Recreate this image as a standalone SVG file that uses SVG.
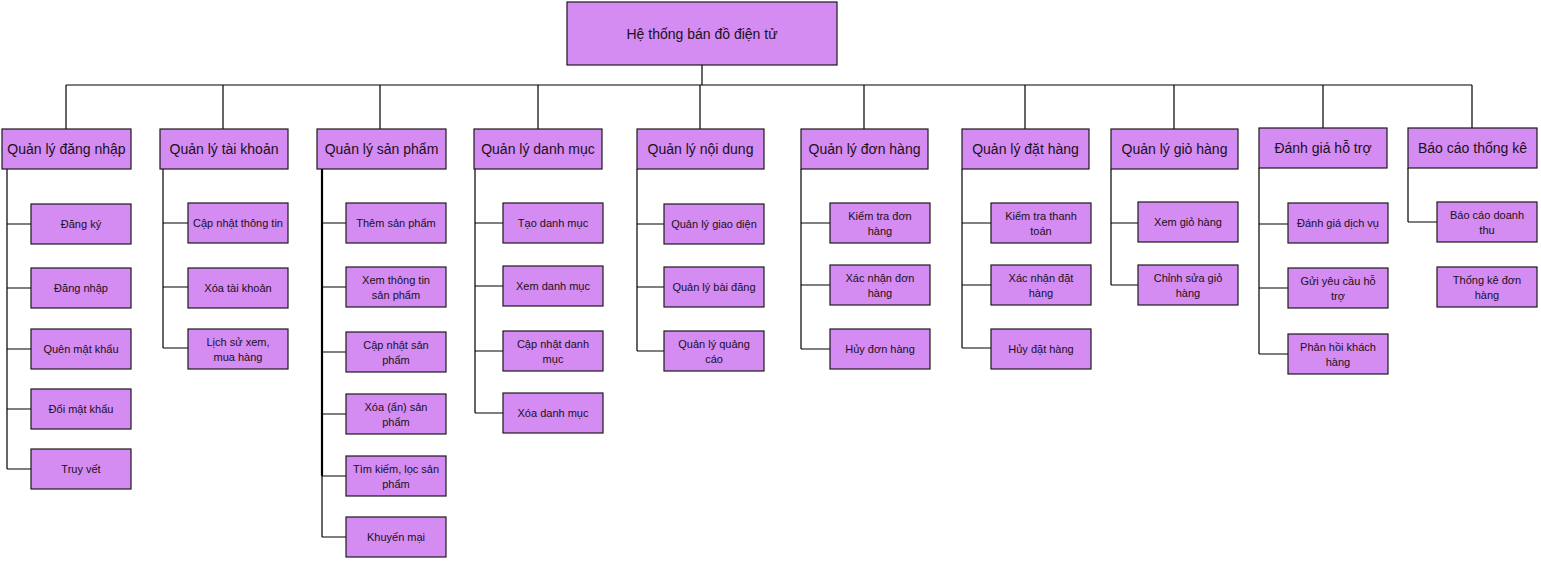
<svg xmlns="http://www.w3.org/2000/svg" width="1541" height="561" viewBox="0 0 1541 561">
<style>
rect{fill:#D48BF2;stroke:#1a1a1a;stroke-width:1.2}
text{font-family:"Liberation Sans",Arial,sans-serif;fill:#1a1020;text-anchor:middle;dominant-baseline:central}
.r{font-size:14px}
.h{font-size:14px}
.c{font-size:11px}
.ln{stroke:#000;stroke-width:1.2;fill:none}
</style>
<rect x="0" y="0" width="1541" height="561" style="fill:#fff;stroke:none"/>
<g id="connectors">
<path class="ln" d="M702 65V85M66 85H1472M66 85V129M223 85V129M380 85V129M538 85V129M700 85V129M864 85V129M1025 85V129M1174 85V129M1323 85V128M1472 85V128"/>
<path class="ln" d="M7 169V469M7 224H31M7 288H31M7 349H31M7 409H31M7 469H31"/>
<path class="ln" d="M163 169V348M163 223H188M163 287H188M163 348H188"/>
<path class="ln" d="M322 169V476" style="stroke-width:2.2"/>
<path class="ln" d="M322 476V537M322 223H346M322 287H346M322 352H346M322 414H346M322 476H346M322 537H346"/>
<path class="ln" d="M475 169V413M475 223H503M475 286H503M475 351H503M475 413H503"/>
<path class="ln" d="M637 169V351M637 224H664M637 287H664M637 351H664"/>
<path class="ln" d="M801 169V349M801 223H830M801 285H830M801 349H830"/>
<path class="ln" d="M962 169V348M962 223H991M962 285H991M962 348H991"/>
<path class="ln" d="M1111 169V285M1111 223H1138M1111 285H1138"/>
<path class="ln" d="M1259 168V354M1259 224H1288M1259 288H1288M1259 354H1288"/>
<path class="ln" d="M1408 168V222M1408 222H1437"/>
</g>
<g id="root"><rect x="567" y="2" width="270" height="63"/><text class="r" x="702" y="34">Hệ thống bán đồ điện tử</text></g>

<g id="n1"><rect x="2" y="129" width="129" height="40"/><text class="h" x="66.5" y="149">Quản lý đăng nhập</text></g>
<g id="n1a"><rect x="31" y="204" width="100" height="40"/><text class="c" x="81" y="224">Đăng ký</text></g>
<g id="n1b"><rect x="31" y="268" width="100" height="40"/><text class="c" x="81" y="288">Đăng nhập</text></g>
<g id="n1c"><rect x="31" y="329" width="100" height="40"/><text class="c" x="81" y="349">Quên mật khẩu</text></g>
<g id="n1d"><rect x="31" y="389" width="100" height="40"/><text class="c" x="81" y="409">Đổi mật khẩu</text></g>
<g id="n1e"><rect x="31" y="449" width="100" height="40"/><text class="c" x="81" y="469">Truy vết</text></g>

<g id="n2"><rect x="160" y="129" width="128" height="40"/><text class="h" x="224" y="149">Quản lý tài khoản</text></g>
<g id="n2a"><rect x="188" y="203" width="100" height="40"/><text class="c" x="238" y="223">Cập nhật thông tin</text></g>
<g id="n2b"><rect x="188" y="268" width="100" height="40"/><text class="c" x="238" y="288">Xóa tài khoản</text></g>
<g id="n2c"><rect x="188" y="329" width="100" height="40"/><text class="c" x="238" y="341.5">Lịch sử xem,</text><text class="c" x="238" y="356.5">mua hàng</text></g>

<g id="n3"><rect x="317" y="129" width="129" height="40"/><text class="h" x="381.5" y="149">Quản lý sản phẩm</text></g>
<g id="n3a"><rect x="346" y="203" width="100" height="40"/><text class="c" x="396" y="223">Thêm sản phẩm</text></g>
<g id="n3b"><rect x="346" y="267" width="100" height="40"/><text class="c" x="396" y="279.5">Xem thông tin</text><text class="c" x="396" y="294.5">sản phẩm</text></g>
<g id="n3c"><rect x="346" y="332" width="100" height="40"/><text class="c" x="396" y="344.5">Cập nhật sản</text><text class="c" x="396" y="359.5">phẩm</text></g>
<g id="n3d"><rect x="346" y="394" width="100" height="40"/><text class="c" x="396" y="406.5">Xóa (ẩn) sản</text><text class="c" x="396" y="421.5">phẩm</text></g>
<g id="n3e"><rect x="346" y="456" width="100" height="40"/><text class="c" x="396" y="468.5">Tìm kiếm, lọc sản</text><text class="c" x="396" y="483.5">phẩm</text></g>
<g id="n3f"><rect x="346" y="517" width="100" height="40"/><text class="c" x="396" y="537">Khuyến mại</text></g>

<g id="n4"><rect x="474" y="129" width="128" height="40"/><text class="h" x="538" y="149">Quản lý danh mục</text></g>
<g id="n4a"><rect x="503" y="203" width="100" height="40"/><text class="c" x="553" y="223">Tạo danh mục</text></g>
<g id="n4b"><rect x="503" y="266" width="100" height="40"/><text class="c" x="553" y="286">Xem danh mục</text></g>
<g id="n4c"><rect x="503" y="331" width="100" height="40"/><text class="c" x="553" y="343.5">Cập nhật danh</text><text class="c" x="553" y="358.5">mục</text></g>
<g id="n4d"><rect x="503" y="393" width="100" height="40"/><text class="c" x="553" y="413">Xóa danh mục</text></g>

<g id="n5"><rect x="637" y="129" width="127" height="40"/><text class="h" x="700.5" y="149">Quản lý nội dung</text></g>
<g id="n5a"><rect x="664" y="204" width="100" height="40"/><text class="c" x="714" y="224">Quản lý giao diện</text></g>
<g id="n5b"><rect x="664" y="267" width="100" height="40"/><text class="c" x="714" y="287">Quản lý bài đăng</text></g>
<g id="n5c"><rect x="664" y="331" width="100" height="40"/><text class="c" x="714" y="343.5">Quản lý quảng</text><text class="c" x="714" y="358.5">cáo</text></g>

<g id="n6"><rect x="801" y="129" width="127" height="40"/><text class="h" x="864.5" y="149">Quản lý đơn hàng</text></g>
<g id="n6a"><rect x="830" y="203" width="100" height="40"/><text class="c" x="880" y="215.5">Kiểm tra đơn</text><text class="c" x="880" y="230.5">hàng</text></g>
<g id="n6b"><rect x="830" y="265" width="100" height="40"/><text class="c" x="880" y="277.5">Xác nhận đơn</text><text class="c" x="880" y="292.5">hàng</text></g>
<g id="n6c"><rect x="830" y="329" width="100" height="40"/><text class="c" x="880" y="349">Hủy đơn hàng</text></g>

<g id="n7"><rect x="962" y="129" width="127" height="40"/><text class="h" x="1025.5" y="149">Quản lý đặt hàng</text></g>
<g id="n7a"><rect x="991" y="203" width="100" height="40"/><text class="c" x="1041" y="215.5">Kiểm tra thanh</text><text class="c" x="1041" y="230.5">toán</text></g>
<g id="n7b"><rect x="991" y="265" width="100" height="40"/><text class="c" x="1041" y="277.5">Xác nhận đặt</text><text class="c" x="1041" y="292.5">hàng</text></g>
<g id="n7c"><rect x="991" y="329" width="100" height="40"/><text class="c" x="1041" y="349">Hủy đặt hàng</text></g>

<g id="n8"><rect x="1111" y="129" width="127" height="40"/><text class="h" x="1174.5" y="149">Quản lý giỏ hàng</text></g>
<g id="n8a"><rect x="1138" y="202" width="100" height="40"/><text class="c" x="1188" y="222">Xem giỏ hàng</text></g>
<g id="n8b"><rect x="1138" y="265" width="100" height="40"/><text class="c" x="1188" y="277.5">Chỉnh sửa giỏ</text><text class="c" x="1188" y="292.5">hàng</text></g>

<g id="n9"><rect x="1259" y="128" width="128" height="40"/><text class="h" x="1323" y="148">Đánh giá hỗ trợ</text></g>
<g id="n9a"><rect x="1288" y="203" width="100" height="40"/><text class="c" x="1338" y="223">Đánh giá dịch vụ</text></g>
<g id="n9b"><rect x="1288" y="268" width="100" height="40"/><text class="c" x="1338" y="280.5">Gửi yêu cầu hỗ</text><text class="c" x="1338" y="295.5">trợ</text></g>
<g id="n9c"><rect x="1288" y="334" width="100" height="40"/><text class="c" x="1338" y="346.5">Phản hồi khách</text><text class="c" x="1338" y="361.5">hàng</text></g>

<g id="n10"><rect x="1408" y="128" width="129" height="40"/><text class="h" x="1472.5" y="148">Báo cáo thống kê</text></g>
<g id="n10a"><rect x="1437" y="202" width="100" height="40"/><text class="c" x="1487" y="214.5">Báo cáo doanh</text><text class="c" x="1487" y="229.5">thu</text></g>
<g id="n10b"><rect x="1437" y="267" width="100" height="40"/><text class="c" x="1487" y="279.5">Thống kê đơn</text><text class="c" x="1487" y="294.5">hàng</text></g>
</svg>
